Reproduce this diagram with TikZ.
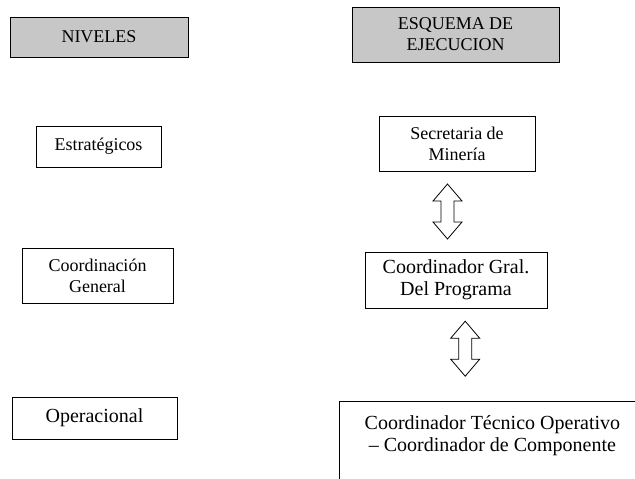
\documentclass[tikz,border=0pt]{standalone}
\usepackage{fontspec}
\setmainfont{Liberation Serif}
\usetikzlibrary{calc}

\begin{document}
\begin{tikzpicture}[x = 1pt, y = -1pt,
  caja/.style = {draw, line width = 0.8pt, align = center, inner sep = 0pt, font = \fontsize{18}{21}\selectfont},
  cajagrande/.style = {caja, font = \fontsize{20}{22}\selectfont},
  titulo/.style = {caja, line width = 1pt, fill = black!22},
  flecha/.style = {draw, line width = 0.8pt, line join = miter}]
\useasboundingbox (0, 0) rectangle (635, 479);
\clip (0, 0) rectangle (635, 479);
\node[titulo, minimum width = 178, minimum height = 40] (niveles) at (99, 37) {NIVELES};
\node[titulo, minimum width = 207, minimum height = 55] (esquema) at (455.5, 34.5) {ESQUEMA DE\\EJECUCION};
\node[caja, minimum width = 125, minimum height = 41] (estrategicos) at (98.5, 146.5) {Estratégicos};
\node[caja, minimum width = 156, minimum height = 55] (secretaria) at (457, 143.5) {Secretaria de\\Minería};
\node[caja, minimum width = 151, minimum height = 55] (coordgen) at (97.5, 275.5) {Coordinación\\General};
\node[cajagrande, minimum width = 182, minimum height = 56] (coordgral) at (456, 280) {Coordinador Gral.\\Del Programa};
\node[cajagrande, minimum width = 165, minimum height = 42] (operacional) at (94.5, 418) {Operacional};
\node[cajagrande, draw = none, anchor = north west, minimum width = 306, inner ysep = 14] (tecnico) at (339, 401)
  {Coordinador Técnico Operativo\\– Coordinador de Componente};
\draw[line width = 0.8pt] (tecnico.north west) ++(0, 100) -- (tecnico.north west) -- (tecnico.north east) -- ++(0, 100);
% flechas dobles huecas
\coordinate (flechaA) at ($(secretaria.south)!0.5!(coordgral.north) + (-9, 0)$);
\coordinate (flechaB) at ($(coordgral.south)!0.5!(tecnico.north) + (-9, -6)$);
\draw[flecha] (flechaA) ++(0, -27.5) -- ++(14.5, 17) -- ++(-8, 0) -- ++(0, 21) -- ++(8, 0) -- ++(-14.5, 17)
  -- ++(-14.5, -17) -- ++(8, 0) -- ++(0, -21) -- ++(-8, 0) -- cycle;
\draw[flecha] (flechaB) ++(0, -27.5) -- ++(14.5, 17) -- ++(-8, 0) -- ++(0, 21) -- ++(8, 0) -- ++(-14.5, 17)
  -- ++(-14.5, -17) -- ++(8, 0) -- ++(0, -21) -- ++(-8, 0) -- cycle;
\end{tikzpicture}
\end{document}
